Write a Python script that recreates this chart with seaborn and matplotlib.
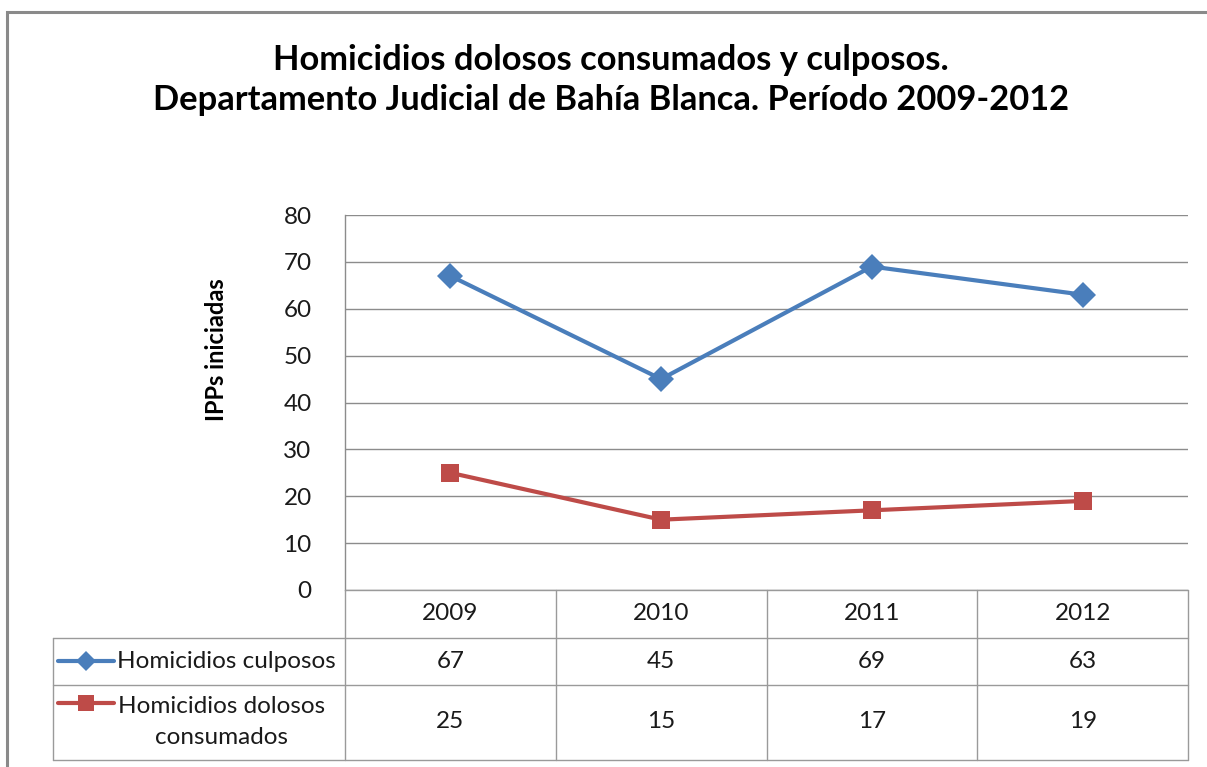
import matplotlib
matplotlib.use("Agg")
import matplotlib.pyplot as plt
import matplotlib.transforms as mtransforms
from matplotlib.lines import Line2D
from matplotlib.patches import Rectangle
import seaborn as sns
import pandas as pd

# ---- data ----
years = ["2009", "2010", "2011", "2012"]
culposos = [67, 45, 69, 63]
dolosos = [25, 15, 17, 19]
series_names = ["Homicidios culposos", "Homicidios dolosos\nconsumados"]
title = "Homicidios dolosos consumados y culposos.\nDepartamento Judicial de Bahía Blanca. Período 2009-2012"
ylabel = "IPPs iniciadas"

W, H = 1207, 767
sns.set_theme(style="white")
FONT = ["Lato", "DejaVu Sans"]
plt.rcParams["font.family"] = FONT

blue = "#4A7EBB"
red = "#BE4B48"
grid_c = "#8C8C8C"
txt_c = "#1a1a1a"

fig = plt.figure(figsize=(W / 100, H / 100), dpi=100)

def fx(px):
    return px / W

def fy(py):
    return 1 - py / H

ax_l, ax_r, ax_t, ax_b = 345, 1188, 215, 590
ax = fig.add_axes([fx(ax_l), fy(ax_b), fx(ax_r - ax_l), (ax_b - ax_t) / H])

df = pd.DataFrame({
    "pos": list(range(len(years))) * 2,
    "value": culposos + dolosos,
    "serie": [series_names[0]] * len(years) + [series_names[1]] * len(years),
})
sns.lineplot(data=df, x="pos", y="value", hue="serie", style="serie",
             palette={series_names[0]: blue, series_names[1]: red},
             markers={series_names[0]: "D", series_names[1]: "s"},
             dashes=False, linewidth=3, markersize=13, markeredgewidth=0,
             legend=False, ax=ax)

ax.set_xlim(-0.5, len(years) - 0.5)
ax.set_ylim(0, 80)
ax.set_yticks(range(0, 81, 10))
ax.set_xticks([])
ax.set_xlabel("")
ax.set_ylabel("")
ax.yaxis.grid(True, color=grid_c, linewidth=1)
ax.set_axisbelow(True)
for s in ["top", "right", "bottom"]:
    ax.spines[s].set_visible(False)
ax.spines["left"].set_color(grid_c)
ax.spines["left"].set_linewidth(1)
ax.tick_params(axis="y", length=0, pad=24, labelsize=17.5, labelcolor=txt_c)

# title and y label
fig.text(fx(611), fy(80), title, ha="center", va="center", fontsize=24.8,
         fontweight="bold", linespacing=1.32, color="#000000")
fig.text(fx(216), fy(350), ylabel, ha="center", va="center", rotation=90,
         fontsize=17, fontweight="bold", color="#000000")

# ---- data table ----
tr = mtransforms.blended_transform_factory(ax.transData, fig.transFigure)
row_y = [590, 638, 685, 760]
tcol = "#9A9A9A"
n = len(years)
fig.add_artist(Line2D([-0.5, n - 0.5], [fy(590), fy(590)], transform=tr, color=tcol, lw=1))
for yy in row_y[1:]:
    fig.add_artist(Line2D([fx(53), fx(ax_r)], [fy(yy), fy(yy)],
                          transform=fig.transFigure, color=tcol, lw=1))
for i in range(n + 1):
    fig.add_artist(Line2D([i - 0.5, i - 0.5], [fy(590), fy(760)], transform=tr, color=tcol, lw=1))
fig.add_artist(Line2D([fx(53), fx(53)], [fy(638), fy(760)],
                      transform=fig.transFigure, color=tcol, lw=1))

fs_t = 17.5
for i, yr in enumerate(years):
    fig.text(i, fy(613), yr, transform=tr, ha="center", va="center", fontsize=fs_t, color=txt_c)
    fig.text(i, fy(661), str(culposos[i]), transform=tr, ha="center", va="center", fontsize=fs_t, color=txt_c)
    fig.text(i, fy(722), str(dolosos[i]), transform=tr, ha="center", va="center", fontsize=fs_t, color=txt_c)

# legend keys
fig.add_artist(Line2D([fx(58), fx(114)], [fy(661), fy(661)], transform=fig.transFigure,
                      color=blue, lw=3))
fig.add_artist(Line2D([fx(86)], [fy(661)], transform=fig.transFigure,
                      color=blue, marker="D", ms=10, mew=0, linestyle="none"))
fig.add_artist(Line2D([fx(58), fx(114)], [fy(703), fy(703)], transform=fig.transFigure,
                      color=red, lw=3))
fig.add_artist(Line2D([fx(86)], [fy(703)], transform=fig.transFigure,
                      color=red, marker="s", ms=11, mew=0, linestyle="none"))
fig.text(fx(117), fy(661), series_names[0], ha="left", va="center", fontsize=fs_t, color=txt_c)
fig.text(fx(222), fy(722), series_names[1], ha="center", va="center", fontsize=fs_t,
         color=txt_c, linespacing=1.55, multialignment="center")

# chart border
fig.add_artist(Rectangle((fx(7), fy(800)), fx(1230), (800 - 12) / H, transform=fig.transFigure,
                         fill=False, edgecolor="#8A8A8A", lw=2.2, clip_on=False))

fig.savefig("out.png", dpi=100)
